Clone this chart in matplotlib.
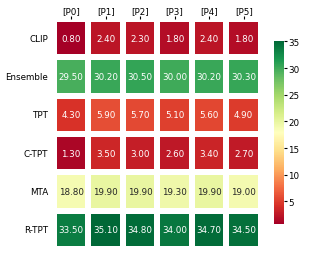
import numpy as np
import matplotlib
matplotlib.use('Agg')
import matplotlib.pyplot as plt
import seaborn as sns

rows = ['CLIP', 'Ensemble', 'TPT', 'C-TPT', 'MTA', 'R-TPT']
cols = ['[P0]', '[P1]', '[P2]', '[P3]', '[P4]', '[P5]']
clip = [0.80, 2.40, 2.30, 1.80, 2.40, 1.80]
ensemble = [29.50, 30.20, 30.50, 30.00, 30.20, 30.30]
tpt = [4.30, 5.90, 5.70, 5.10, 5.60, 4.90]
ctpt = [1.30, 3.50, 3.00, 2.60, 3.40, 2.70]
mta = [18.80, 19.90, 19.90, 19.30, 19.90, 19.00]
rtpt = [33.50, 35.10, 34.80, 34.00, 34.70, 34.50]

data = np.array([clip, ensemble, tpt, ctpt, mta, rtpt])

fig = plt.figure(figsize=(3.19, 2.55), dpi=100)
ax = fig.add_axes([0.169, 0.02, 0.649, 0.902])
cax = fig.add_axes([0.859, 0.118, 0.031, 0.718])

fs = 6.3
sns.heatmap(data, ax=ax, cbar_ax=cax, cmap='RdYlGn', annot=True, fmt='.2f',
            linewidths=3, linecolor='white', xticklabels=cols, yticklabels=rows,
            annot_kws={'fontsize': fs})

ax.xaxis.tick_top()
ax.tick_params(axis='x', labelsize=fs, length=2, pad=1)
ax.tick_params(axis='y', labelsize=fs, length=0, pad=4, rotation=0)
cax.tick_params(labelsize=fs, length=2, pad=1)
cax.set_yticks([5, 10, 15, 20, 25, 30, 35])

fig.savefig('out.png', dpi=100)
